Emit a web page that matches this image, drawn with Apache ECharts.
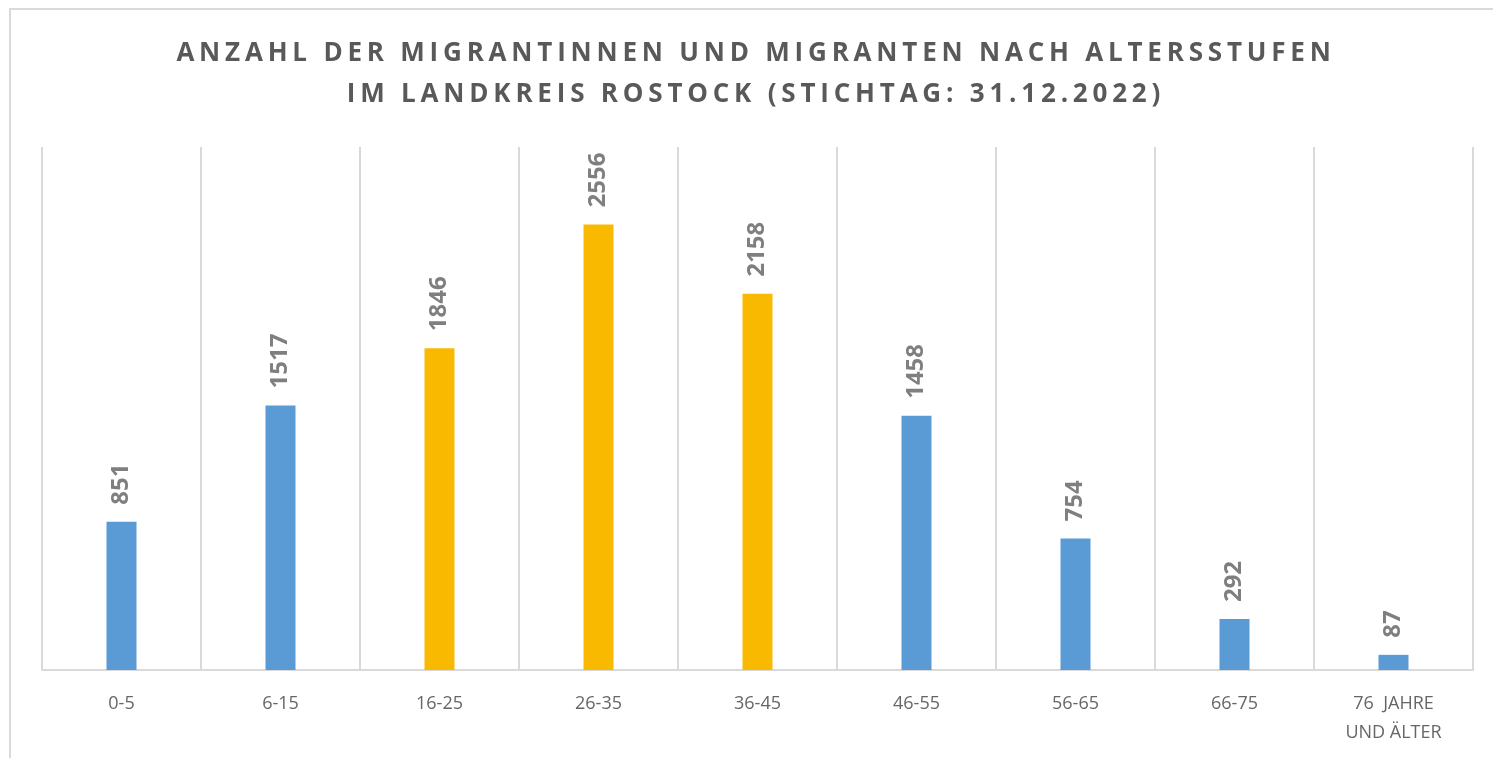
<!DOCTYPE html>
<html>
<head>
<meta charset="utf-8">
<script src="https://cdn.jsdelivr.net/npm/echarts@6/dist/echarts.min.js"></script>
<style>
    html, body { margin: 0; padding: 0; background: #fff; }
    #wrap { position: relative; width: 1493px; height: 758px; overflow: hidden; }
    #frame {
        position: absolute; left: 9px; top: 8px; width: 1600px; height: 800px;
        border: 2px solid #D9D9D9; box-sizing: border-box;
    }
    #chart { position: absolute; left: 0; top: 0; width: 1493px; height: 758px; }
    #title {
        position: absolute; left: 156px; width: 1200px; top: 31px;
        text-align: center; font-family: 'Open Sans', sans-serif; font-weight: bold;
        font-size: 26px; line-height: 41px; letter-spacing: 4.8px; color: #595959;
    }
</style>
</head>
<body>
<div id="wrap">
    <div id="frame"></div>
    <div id="chart"></div>
    <div id="title">ANZAHL DER MIGRANTINNEN UND MIGRANTEN NACH ALTERSSTUFEN<br>IM LANDKREIS ROSTOCK (STICHTAG: 31.12.2022)</div>
</div>
<script>
// Altersstufen und Anzahl
const categories = ['0-5', '6-15', '16-25', '26-35', '36-45', '46-55', '56-65', '66-75', '76  JAHRE\nUND ÄLTER'];
const values = [851, 1517, 1846, 2556, 2158, 1458, 754, 292, 87];
// hervorgehobene Altersstufen (gelb)
const highlighted = ['16-25', '26-35', '36-45'];

const BLUE = '#5B9BD5';
const GOLD = '#F9B900';

const chart = echarts.init(document.getElementById('chart'));

const option = {
    animation: false,
    backgroundColor: 'transparent',
    grid: { left: 42, right: 20, top: 147, bottom: 88 },
    xAxis: {
        type: 'category',
        data: categories,
        axisLine: { lineStyle: { color: '#D9D9D9', width: 2 } },
        axisTick: { show: false },
        axisLabel: {
            color: '#666666',
            fontFamily: 'Open Sans',
            fontSize: 18,
            margin: 19,
            lineHeight: 29,
            interval: 0
        },
        splitLine: { show: true, lineStyle: { color: '#D9D9D9', width: 2 } }
    },
    yAxis: {
        type: 'value',
        min: 0,
        max: 3000,
        show: false,
        splitLine: { show: false }
    },
    series: [{
        type: 'bar',
        barWidth: 30,
        data: values.map((v, i) => ({
            value: v,
            itemStyle: { color: highlighted.includes(categories[i]) ? GOLD : BLUE }
        })),
        label: {
            show: true,
            position: 'top',
            rotate: 90,
            align: 'left',
            verticalAlign: 'middle',
            distance: 17,
            color: '#7F7F7F',
            fontFamily: 'Open Sans',
            fontWeight: 'bold',
            fontSize: 24
        }
    }]
};

chart.setOption(option);
</script>
</body>
</html>
